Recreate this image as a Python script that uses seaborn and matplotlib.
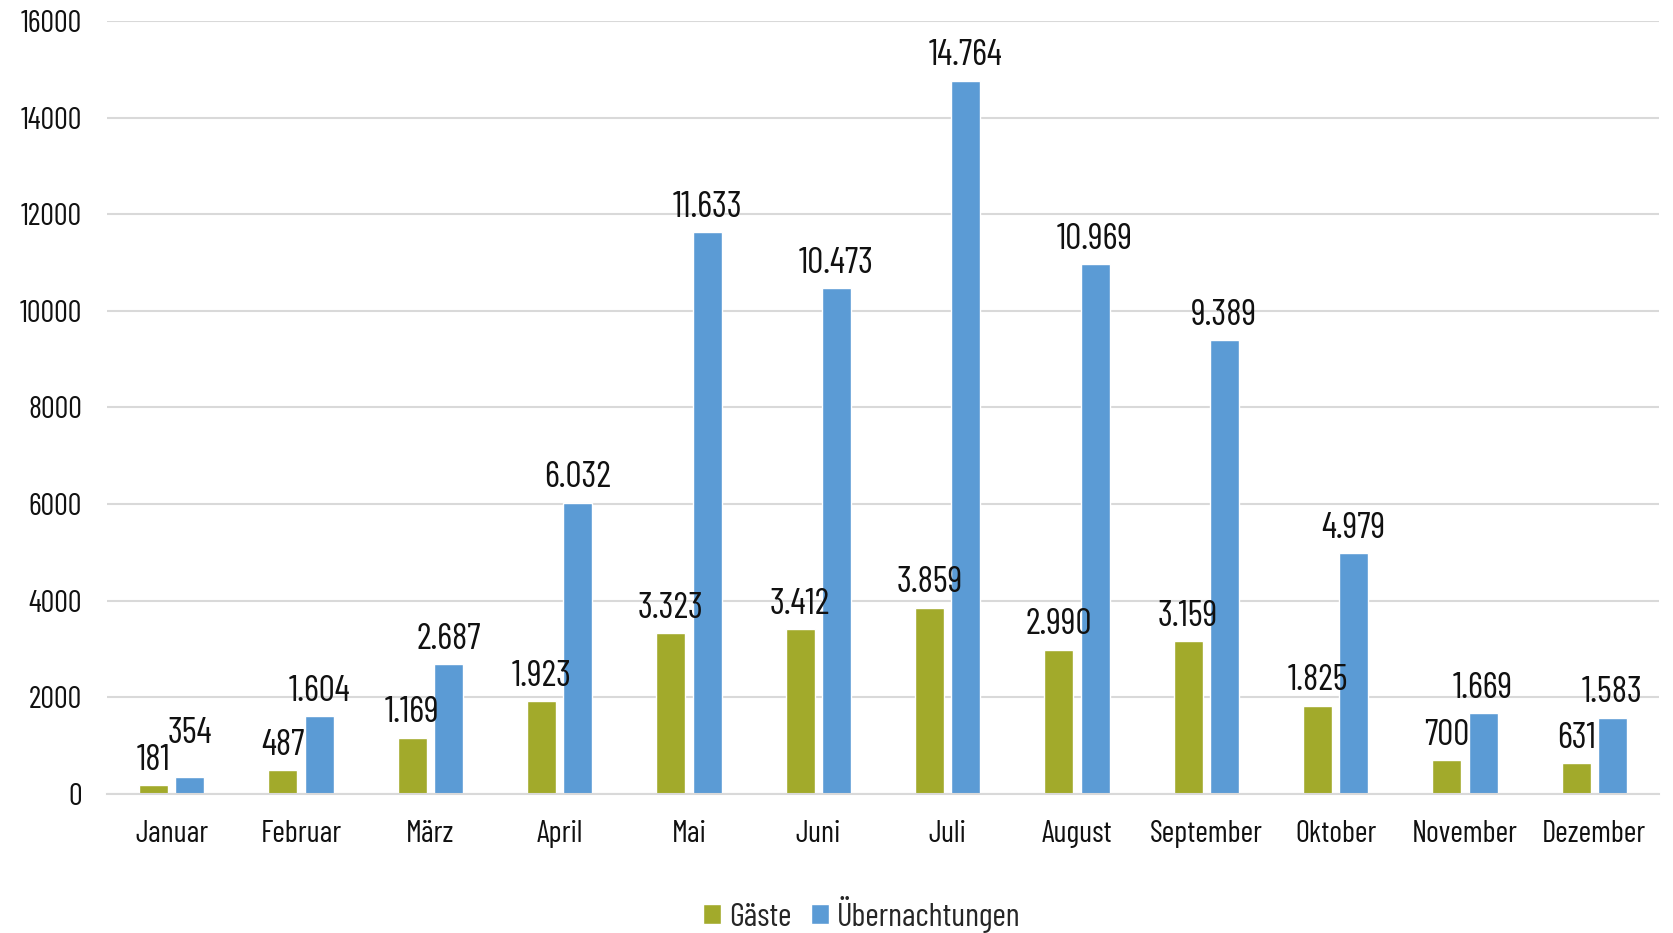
import matplotlib
matplotlib.use("Agg")
import matplotlib.pyplot as plt
import seaborn as sns
import pandas as pd

# === Data ===
MONATE = ["Januar", "Februar", "März", "April", "Mai", "Juni",
          "Juli", "August", "September", "Oktober", "November", "Dezember"]
GAESTE = [181, 487, 1169, 1923, 3323, 3412, 3859, 2990, 3159, 1825, 700, 631]
UEBERNACHTUNGEN = [354, 1604, 2687, 6032, 11633, 10473, 14764, 10969, 9389, 4979, 1669, 1583]
SERIEN = ["Gäste", "Übernachtungen"]
FARBEN = ["#A2AA2B", "#5B9BD5"]
Y_TICKS = [0, 2000, 4000, 6000, 8000, 10000, 12000, 14000, 16000]

df = pd.DataFrame({
    "Monat": MONATE * 2,
    "Serie": [SERIEN[0]] * len(MONATE) + [SERIEN[1]] * len(MONATE),
    "Wert": GAESTE + UEBERNACHTUNGEN,
})

sns.set_theme(style="white")
plt.rcParams["font.family"] = ["Barlow Condensed", "Roboto Condensed", "DejaVu Sans"]
FS_TICK = 22
FS_LABEL = 26
FS_LEG = 23.5

fig = plt.figure(figsize=(16.73, 9.33), dpi=100)
ax = fig.add_axes([0.064, 0.149, 0.9276, 0.8285])

sns.barplot(data=df, x="Monat", y="Wert", hue="Serie", order=MONATE, hue_order=SERIEN,
            palette=FARBEN, saturation=1, width=0.56, gap=0.2, errorbar=None, ax=ax)


def fmt(v):
    return f"{v:,}".replace(",", ".")


# === Data labels ===
# Januar-Übernachtungen label sits higher (avoids clash with the Gäste label)
ax.bar_label(ax.containers[0], labels=[fmt(v) for v in GAESTE],
             padding=6, fontsize=FS_LABEL, color="#111111")
ax.bar_label(ax.containers[1], labels=["" if i == 0 else fmt(v) for i, v in enumerate(UEBERNACHTUNGEN)],
             padding=6, fontsize=FS_LABEL, color="#111111")
ax.bar_label(ax.containers[1], labels=[fmt(v) if i == 0 else "" for i, v in enumerate(UEBERNACHTUNGEN)],
             padding=19, fontsize=FS_LABEL, color="#111111")

# === Axes styling ===
ax.set_ylim(0, 16000)
ax.set_xlim(-0.5, len(MONATE) - 0.5)
ax.set_yticks(Y_TICKS)
ax.set_yticklabels([str(t) for t in Y_TICKS])
ax.yaxis.grid(True, color="#D9D9D9", linewidth=1.5)
ax.set_axisbelow(True)
for s in ["top", "right", "left"]:
    ax.spines[s].set_visible(False)
ax.spines["bottom"].set_color("#D9D9D9")
ax.spines["bottom"].set_linewidth(1.5)
ax.tick_params(axis="y", length=0, pad=18, labelsize=FS_TICK, labelcolor="#111111")
ax.tick_params(axis="x", length=0, pad=19, labelsize=FS_TICK, labelcolor="#111111")
ax.set_xlabel("")
ax.set_ylabel("")

# === Legend ===
ax.legend_.remove()
handles, labels = ax.get_legend_handles_labels()
fig.legend(handles, labels, loc="center", bbox_to_anchor=(0.515, 0.02), ncol=2,
           frameon=False, fontsize=FS_LEG, handlelength=0.55, handleheight=0.55,
           handletextpad=0.25, columnspacing=0.6, borderpad=0)

fig.savefig("out.png", dpi=100)
